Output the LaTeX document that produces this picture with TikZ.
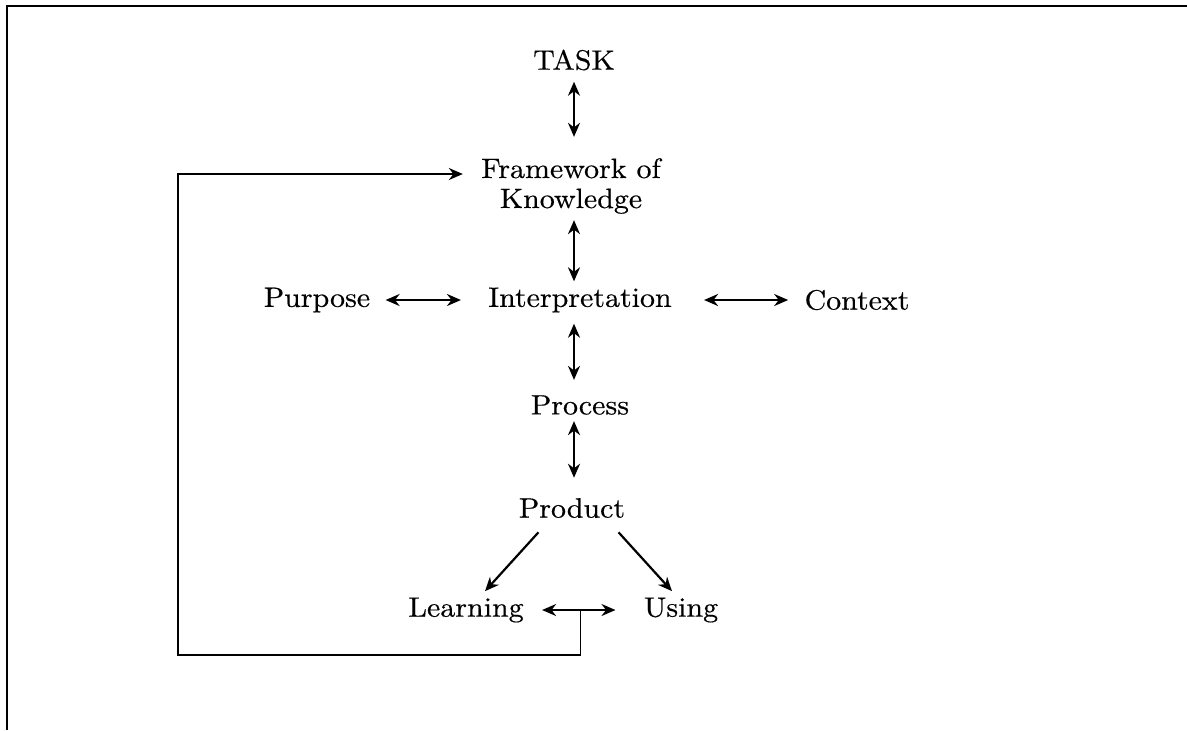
\documentclass[tikz,border=0pt]{standalone}
\usepackage{fontspec}
\setmainfont{lmroman10-regular.otf}[FakeStretch=1.07,FakeBold=0.4]
\usetikzlibrary{arrows.meta}

\begin{document}
\begin{tikzpicture}[x=0.5pt,y=-0.5pt,>={Stealth[length=7pt,width=6pt]},
		box/.style={font=\fontsize{14}{15}\selectfont,inner sep=3pt},
		link/.style={<->,line width=1.1pt},
		flow/.style={->,line width=1.1pt}]
		%\draw[help lines,step=50] (0,0) grid (1187,730);
		\useasboundingbox (0,0) rectangle (1187,730);
		% page frame
		\draw[line width=1pt] (7,730) -- (7,6) -- (1187,6);
		% column
		\node[box] (task) at (574,60) {TASK};
		\node[box,align=center] (frame) at (571,186) {Framework of\\Knowledge};
		\node[box] (interp) at (580,300) {Interpretation};
		\node[box] (purp) at (317,300) {Purpose};
		\node[box] (ctx) at (857,300) {Context};
		\node[box] (proc) at (580,405) {Process};
		\node[box] (prod) at (572,508) {Product};
		\node[box] (learn) at (466,610) {Learning};
		\node[box] (use) at (681,610) {Using};
		% arrows
		\draw[link,shorten <=2.5pt,shorten >=7.5pt] (task) -- (task |- frame.north);
		\draw[link] (frame.south -| task) -- (task |- interp.north);
		\draw[link,shorten <=2.5pt,shorten >=4.5pt] (interp.south -| task) -- (task |- proc.north);
		\draw[link,shorten >=7pt] (proc.south -| task) -- (task |- prod.north);
		\draw[link,shorten <=4.5pt,shorten >=10.5pt] (purp) -- (interp);
		\draw[link,shorten <=13pt,shorten >=5pt] (interp) -- (ctx);
		\draw[flow] ([xshift=13pt,yshift=-4pt]prod.south west) -- ([xshift=9.5pt]learn.north);
		\draw[flow] ([xshift=-6.5pt,yshift=-4pt]prod.south east) -- ([xshift=-4.5pt]use.north);
		\draw[link,shorten <=6pt,shorten >=11pt] (learn) -- coordinate[pos=0.47] (mid) (use);
		% loop back
		\coordinate (corner) at (178,655);
		\draw[flow,line width=0.9pt,shorten >=6pt] (mid) -- (mid |- corner) -- (corner) |- ([yshift=6pt]frame.west);
\end{tikzpicture}
\end{document}
